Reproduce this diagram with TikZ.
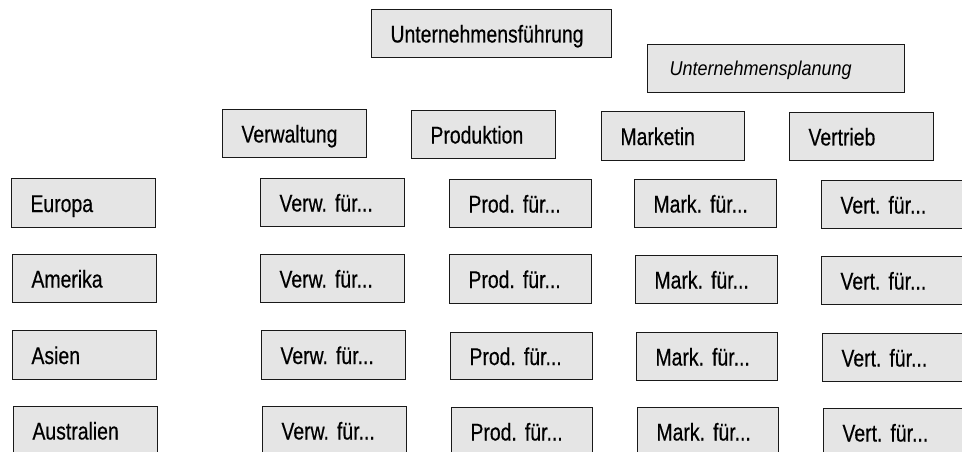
\documentclass[tikz,border=0pt]{standalone}
\usepackage{fontspec}
\newfontfamily\boxfont[FakeStretch=0.8,FakeBold=0.4]{Liberation Sans}
\newfontfamily\planfont[FakeStretch=0.9]{Liberation Sans}
\frenchspacing
\begin{document}
\begin{tikzpicture}[x=1pt,y=-1pt,
  orgbox/.style={draw=black!90, line width=1pt, fill=black!10, rectangle,
    anchor=north west, inner xsep=19pt, inner ysep=0pt, align=left,
    text height=18pt, text depth=0pt,
    font=\boxfont\frenchspacing\fontsize{24.25}{29}\selectfont},
  planbox/.style={orgbox, inner xsep=22pt, text height=15pt,
    font=\planfont\itshape\fontsize{20}{24}\selectfont}]
\path[use as bounding box] (0,0) rectangle (962,452);
\clip (0,0) rectangle (962,452);
\newcommand\bx[7][orgbox]{\node[#1, minimum width=#4pt, minimum height=#5pt, text width=#4pt-2*19pt] (#6) at (#2,#3) {#7};}
% top
\bx{371}{9}{240}{48}{uf}{Unternehmensführung}
\bx[planbox]{647}{44}{251}{48}{up}{Unternehmensplanung}
% departments
\bx{222}{109}{144}{48}{verw}{Verwaltung}
\bx{411}{110}{144}{48}{prod}{Produktion}
\bx{601}{111}{143}{49}{mark}{Marketin}
\bx{789}{112}{144}{48}{vert}{Vertrieb}
% row 1
\bx{11}{178}{144}{49}{eu}{Europa}
\bx{260}{178}{144}{48}{verwA}{Verw. für...}
\bx{449}{179}{142}{48}{prodA}{Prod. für...}
\bx{634}{179}{142}{48}{markA}{Mark. für...}
\bx{821}{180}{144}{48}{vertA}{Vert. für...}
% row 2
\bx{12}{254}{144}{48}{am}{Amerika}
\bx{260}{254}{144}{48}{verwB}{Verw. für...}
\bx{449}{254}{142}{49}{prodB}{Prod. für...}
\bx{635}{255}{142}{48}{markB}{Mark. für...}
\bx{821}{256}{144}{48}{vertB}{Vert. für...}
% row 3
\bx{12}{330}{144}{49}{as}{Asien}
\bx{261}{330}{144}{49}{verwC}{Verw. für...}
\bx{450}{332}{142}{47}{prodC}{Prod. für...}
\bx{636}{332}{141}{48}{markC}{Mark. für...}
\bx{822}{333}{144}{48}{vertC}{Vert. für...}
% row 4
\bx{13}{406}{144}{48}{au}{Australien}
\bx{262}{406}{144}{48}{verwD}{Verw. für...}
\bx{451}{407}{141}{48}{prodD}{Prod. für...}
\bx{637}{407}{141}{48}{markD}{Mark. für...}
\bx{823}{408}{144}{48}{vertD}{Vert. für...}
\end{tikzpicture}
\end{document}
